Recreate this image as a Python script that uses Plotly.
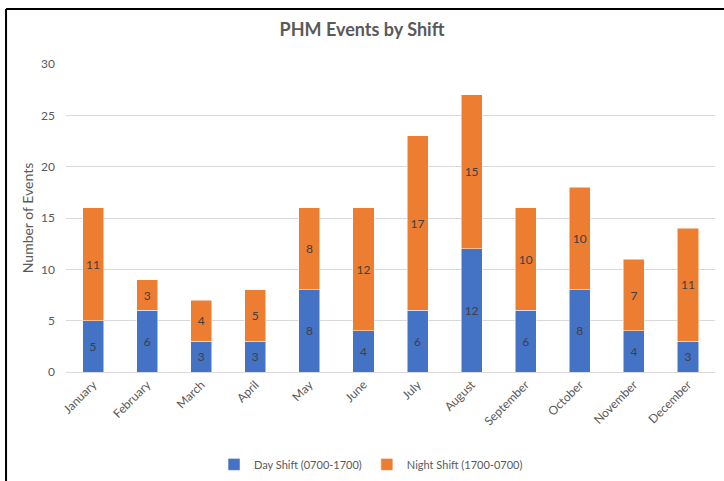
import plotly.graph_objects as go

months = ["January", "February", "March", "April", "May", "June", "July",
          "August", "September", "October", "November", "December"]
day_shift = [5, 6, 3, 3, 8, 4, 6, 12, 6, 8, 4, 3]
night_shift = [11, 3, 4, 5, 8, 12, 17, 15, 10, 10, 7, 11]

FONT = "Lato"
GRAY = "#595959"

fig = go.Figure()
fig.add_trace(go.Bar(
    x=months, y=day_shift, name="Day Shift (0700-1700)",
    marker=dict(color="#4472C4", line=dict(color="#FFFFFF", width=0.5)),
    text=day_shift, textposition="inside", insidetextanchor="middle",
    textfont=dict(color="#404040", size=12, family=FONT),
))
fig.add_trace(go.Bar(
    x=months, y=night_shift, name="Night Shift (1700-0700)",
    marker=dict(color="#ED7D31", line=dict(color="#FFFFFF", width=0.5)),
    text=night_shift, textposition="inside", insidetextanchor="middle",
    textfont=dict(color="#404040", size=12, family=FONT),
))

fig.update_layout(
    width=724, height=481, autosize=False,
    barmode="stack", bargap=0.61,
    plot_bgcolor="white", paper_bgcolor="white",
    margin=dict(l=66, r=9, t=64, b=109, autoexpand=False),
    font=dict(family=FONT, color=GRAY, size=12),
    uniformtext=dict(minsize=8, mode="show"),
    title=dict(text="<b>PHM Events by Shift</b>", x=0.5, xref="container",
               xanchor="center", y=0.938, yanchor="middle",
               font=dict(size=18, color=GRAY, family=FONT)),
    legend=dict(orientation="h", x=0.47, xanchor="center", y=-0.30,
                yanchor="middle", font=dict(size=11, color=GRAY),
                traceorder="normal", itemwidth=30, tracegroupgap=0),
    xaxis=dict(tickangle=-45, showgrid=False, showline=True,
               linecolor="#D9D9D9", linewidth=1, ticks="",
               tickfont=dict(size=12, color=GRAY)),
    yaxis=dict(range=[0, 30], dtick=5, showgrid=True, gridcolor="#D9D9D9",
               gridwidth=1, zeroline=False, ticks="", ticklen=0,
               ticklabelstandoff=10,
               tickfont=dict(size=12, color=GRAY),
               title=dict(text="Number of Events", standoff=4,
                          font=dict(size=14, color=GRAY))),
    shapes=[
        dict(type="line", xref="paper", yref="paper",
             x0=-0.0924, x1=1.02, y0=1.1786, y1=1.1786,
             line=dict(color="black", width=2)),
        dict(type="line", xref="paper", yref="paper",
             x0=-0.0924, x1=-0.0924, y0=1.1786, y1=-0.36,
             line=dict(color="black", width=2)),
    ],
)

fig.write_html("out.html", config={"displayModeBar": False},
               post_script="document.body.style.margin='0';"
                           "document.body.style.overflow='hidden';")
